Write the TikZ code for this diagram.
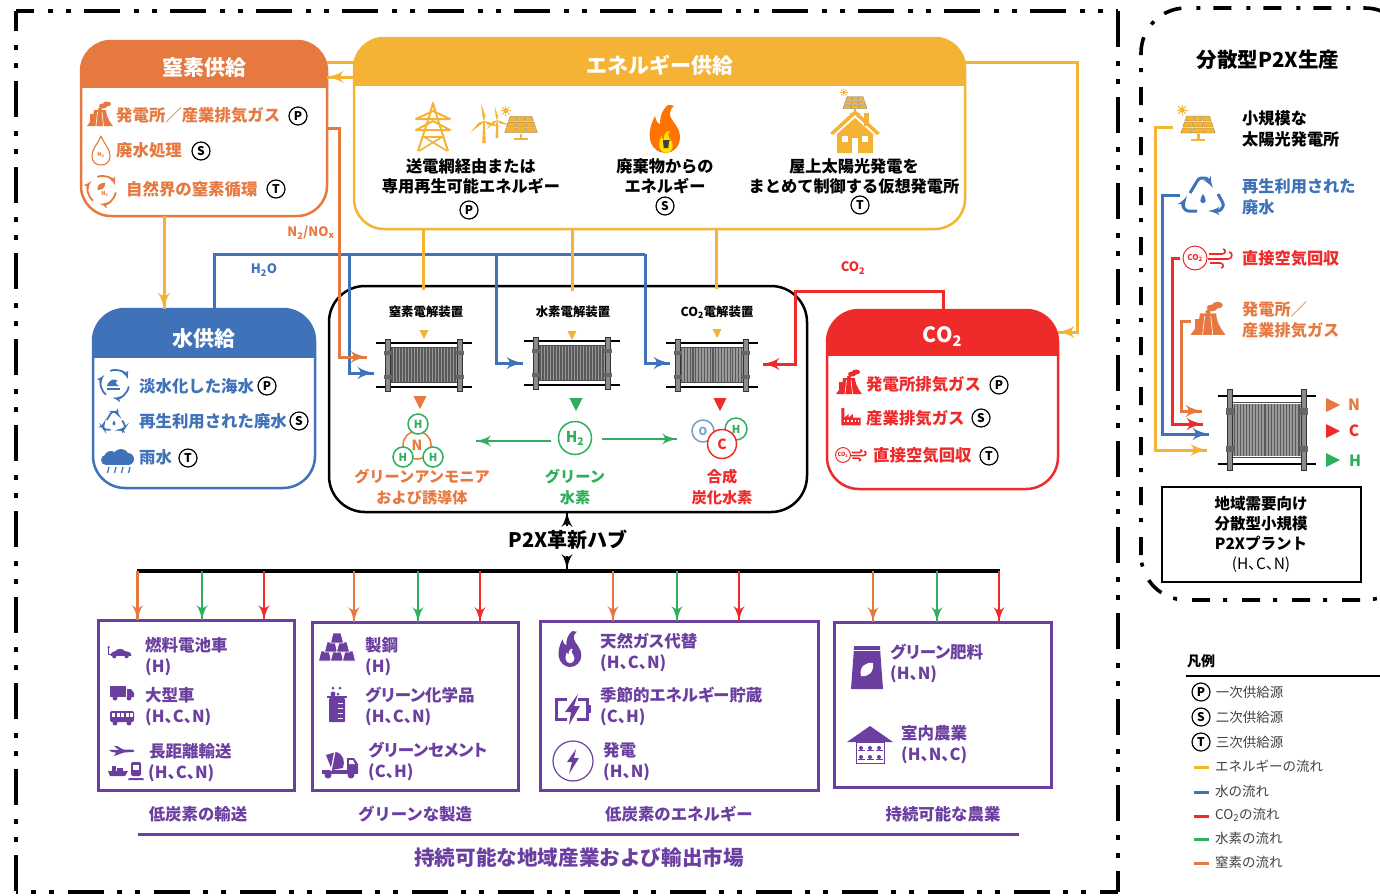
\documentclass[tikz,border=0pt]{standalone}
\usepackage{fontspec}
\setmainfont{Noto Sans CJK JP}
\newfontfamily\paren{Noto Sans CJK JP}[RawFeature=+palt]
\usetikzlibrary{arrows}
\usetikzlibrary{calc}
\usetikzlibrary{decorations.markings}
\usetikzlibrary{fit}
\usetikzlibrary{positioning}
\definecolor{cOrange}{HTML}{E5793F}
\definecolor{cYellow}{HTML}{F5B335}
\definecolor{cBlue}{HTML}{3F72B8}
\definecolor{cRed}{HTML}{EE2A2A}
\definecolor{cGreen}{HTML}{2FAE5B}
\definecolor{cPurple}{HTML}{6B3FA0}
\newcommand{\pxfont}[2]{\fontsize{#1}{#2}\selectfont}
\newcommand{\feedset}[1]{{\paren (#1)}}
\tikzset{->-/.style = {decoration={markings,
                                   mark=at position #1 with {\arrow[scale=1.4]{latex'}}},
                       postaction={decorate}}}
\tikzset{flowline/.style = {line width=3},
         thinflow/.style = {line width=2.6},
         framedash/.style = {line width=4, dash pattern=on 36pt off 14pt on 5pt off 13pt on 5pt off 13pt},
         itemtext/.style = {anchor=west, inner sep=0, align=left, font=\bfseries\pxfont{16.4}{21}},
         markettext/.style = {anchor=west, inner sep=0, align=left, text=cPurple, font=\paren\bfseries\pxfont{16.5}{21}},
         sidetext/.style = {anchor=west, inner sep=0, align=left, font=\bfseries\pxfont{16.2}{21}},
         midtext/.style = {inner sep=0, align=center, font=\bfseries\pxfont{16.2}{20}},
         captext/.style = {inner sep=0, text=cPurple, font=\bfseries\pxfont{16.4}{20}},
         celltext/.style = {inner sep=0, font=\bfseries\pxfont{12.4}{14}},
         flowtext/.style = {inner sep=0, font=\bfseries\pxfont{13}{14}},
         legendtext/.style = {inner sep=0, text=black!75, font=\pxfont{13.5}{16}},
         tagmark/.style = {circle, draw, fill=white, line width=1.2, minimum size=18, inner sep=0, font=\bfseries\pxfont{12}{12}},
         atom/.style = {circle, draw, fill=white, line width=1.5, inner sep=0, font=\bfseries\pxfont{14}{14}},
         marketbox/.style = {draw=cPurple, line width=3, inner sep=0, outer sep=0},
         icontext/.style = {inner sep=0, font=\bfseries\pxfont{5.5}{6}},
         recycleink/.style = {line width=3},
         titlelift/.style = {yshift=-4pt}}
\tikzset{tridown/.pic = {\fill (-6,0) -- (6,0) -- (0,12) -- cycle;},
         triright/.pic = {\fill (0,-7) -- (14,0) -- (0,7) -- cycle;}}
\tikzset{cellstack/.pic = {
           \fill[black!40] (-34,-17) rectangle (34,17);
           \foreach \x in {-32,-29,...,33} \draw[black!65, line width=1.1] (\x,-17) -- (\x,17);
           \draw[black, line width=2] (-48,-22) -- (48,-22);
           \draw[black, line width=2] (-48,22) -- (48,22);
           \draw[black!70, line width=1] (-34,-17.5) -- (34,-17.5);
           \draw[black!70, line width=1] (-34,17.5) -- (34,17.5);
           \foreach \x in {-36,36} {
             \filldraw[fill=black!45, draw=black!80, line width=.8] (\x-2.5,-26) rectangle (\x+2.5,26);
             \foreach \y in {-12,12} \fill[black!60] (\x-4,\y-2) rectangle (\x+4,\y+2);
           }}}
\tikzset{solarpanel/.pic = {
           \foreach \r in {0,1,2} {\foreach \k in {0,1,2} {
             \pgfmathsetmacro{\ya}{-9+6*\r}\pgfmathsetmacro{\yb}{\ya+5}
             \pgfmathsetmacro{\wa}{8+1.33*\r}\pgfmathsetmacro{\wb}{\wa+1.1}
             \filldraw[draw=black!55, line width=.25] ({(\k-1.5)*\wa+.4},\ya) -- ({(\k-.5)*\wa-.4},\ya)
               -- ({(\k-.5)*\wb-.4},\yb) -- ({(\k-1.5)*\wb+.4},\yb) -- cycle;
           }}
           \fill (-1.5,9) rectangle (1.5,14);
           \fill (-7,14) rectangle (7,16);
           \fill (-16,-15) circle (2.8);
           \foreach \a in {0,45,...,315} \draw[line width=.8] ($(-16,-15)+(\a:3)$) -- ($(-16,-15)+(\a:5.5)$);
         },
         windturbine/.pic = {
           \fill (-1.8,0) -- (1.8,0) -- (.8,-22) -- (-.8,-22) -- cycle;
           \begin{scope}[shift={(0,-22)}]
           \foreach \a in {-100,20,140} \fill (0,0) -- (\a+24:5.5) -- (\a:18) -- (\a-10:4) -- cycle;
           \end{scope}
         },
         pylon/.pic = {
           \draw[line width=2, line join=round] (-15,24) -- (-4,-10) -- (0,-24) -- (4,-10) -- (15,24);
           \draw[line width=2, line join=round] (-17,-8) -- (0,-16) -- (17,-8) -- cycle;
           \draw[line width=2, line join=round] (-17,3) -- (0,-6) -- (17,3) -- cycle;
           \draw[line width=1.6] (-10,10) -- (10,10) (-9,10) -- (14,24) (9,10) -- (-14,24);
         },
         flame/.pic = {
           \fill (3,-24) .. controls (-4,-18) and (-5,-11) .. (-5,-5) .. controls (-7,-5) and (-9,-8) .. (-10,-13)
             .. controls (-15,-3) and (-16,4) .. (-15,10) .. controls (-14,18) and (-7,24) .. (0,24)
             .. controls (8,24) and (15,18) .. (15,8) .. controls (15,-2) and (6,-8) .. (5,-14)
             .. controls (5,-18) and (6,-21) .. (9,-23) .. controls (7,-24) and (5,-24) .. (3,-24) -- cycle;
         },
         binmark/.pic = {
           \fill (-3.5,-3.5) rectangle (3.5,-2.6);
           \fill (-3,-2) -- (3,-2) -- (2.3,5) -- (-2.3,5) -- cycle;
         },
         roofhouse/.pic = {
           \fill (9,-19) rectangle (14,-6);
           \fill (0,-22) -- (25,1) -- (22,3) -- (0,-17) -- (-22,3) -- (-25,1) -- cycle;
           \fill (0,-14) -- (18,2) -- (18,21) -- (-18,21) -- (-18,2) -- cycle;
           \fill[white] (-13,4) rectangle (-7,10);
           \fill[white] (7,4) rectangle (13,10);
           \fill[white] (-3,6) rectangle (3,21);
         },
         plantstack/.pic = {
           \fill (-13,11) .. controls (-8,5) and (-6,-1) .. (-6,-5) -- (6,-5) .. controls (6,-1) and (8,5) .. (13,11) -- cycle;
           \draw[white, line width=.6] (-2.5,-3) -- (-4,11) (2,-3) -- (3.5,11);
           \fill (-10,-1) rectangle (-7,11);
           \fill (3,-9) ellipse (4 and 2.5);
           \fill (7,-11) ellipse (4 and 2.5);
           \fill (0,-6) ellipse (2 and 1.5);
         },
         recyclemark/.pic = {
           \draw[recycleink, rounded corners=2.5, -latex'] (-13,-2) -- (-4,-17) -- (4,-17) -- (10,-7);
           \draw[recycleink, rounded corners=2.5, -latex'] (15,-1) -- (21,10) -- (17,16) -- (5,16);
           \draw[recycleink, rounded corners=2.5, -latex'] (-6,16) -- (-17,16) -- (-21,10) -- (-16,1);
           \fill (0,-1) .. controls (-4,5) and (-3,8) .. (0,8) .. controls (3,8) and (4,5) .. (0,-1) -- cycle;
         },
         cyclemark/.pic = {
           \foreach \a in {10,130,250} \draw[line width=1.8, -latex'] (\a:14) arc (\a:\a+90:14);
         },
         leafmark/.pic = {
           \fill (6,-6) .. controls (-2,-6) and (-6,-2) .. (-5,4) .. controls (2,5) and (6,1) .. (6,-6) -- cycle;
         },
         wavemark/.pic = {
           \fill (-8,2) .. controls (-6,-5) and (0,-6) .. (3,-3) .. controls (0,-3) and (0,0) .. (4,2) -- cycle;
           \draw[line width=1.2] (-8,5) -- (5,5);
         },
         waterdrop/.pic = {
           \draw[line width=1.1, line join=round] (0,-15) .. controls (-4,-6) and (-9,-2) .. (-9,5)
             .. controls (-9,11) and (-5,14) .. (0,14) .. controls (5,14) and (9,11) .. (9,5)
             .. controls (9,-2) and (4,-6) .. (0,-15) -- cycle;
           \node[icontext] (dropN) at (0,4) {N\textsubscript{2}};
         },
         raincloud/.pic = {
           \fill (-7,-2) circle (7);
           \fill (3,-3) circle (8);
           \fill (10,-1) circle (6);
           \fill (-12,0) circle (5);
           \fill (-12,-1) rectangle (11,5);
           \foreach \x in {-9,-2,5,12} \draw[line width=1.3] (\x,7) -- (\x-1.5,13);
         },
         factorymark/.pic = {
           \fill (-16,14) -- (-16,-15) -- (-11,-15) -- (-11,1) -- (-4,-5) -- (-4,1) -- (3,-5) -- (3,1) -- (16,1) -- (16,14) -- cycle;
           \foreach \x in {-12,-6,0,6,11} \fill[white] (\x,5) rectangle (\x+2.5,8);
         },
         aircapture/.pic = {
           \draw[line width=1] (0,0) circle (12);
           \node[icontext] (airCO) at (0,0) {CO\textsubscript{2}};
           \draw[line width=1.6] (14,-4) -- (27,-4) .. controls (31,-4) and (31,-9) .. (28,-9);
           \draw[line width=1.6] (13,1) -- (33,1) .. controls (38,1) and (38,-6) .. (34,-6);
           \draw[line width=1.6] (15,5) -- (25,5) .. controls (29,5) and (29,10) .. (26,10);
         },
         carmark/.pic = {
           \fill (-10,4) .. controls (-10,0) and (-7,0) .. (-5,-1) .. controls (-3,-4) and (3,-4) .. (5,-1)
             .. controls (8,-1) and (12,0) .. (12,4) -- cycle;
           \fill (-6,4.5) circle (2.2);
           \fill (7,4.5) circle (2.2);
           \draw[line width=.9] (-10,3) -- (-12,3) -- (-12,-4);
           \fill (-12,-5) circle (1.3);
         },
         truckmark/.pic = {
           \fill (-12,-7) rectangle (4,4);
           \fill (5,-4) -- (9,-4) -- (12,0) -- (12,4) -- (5,4) -- cycle;
           \fill (-7,5) circle (2.5);
           \fill (7,5) circle (2.5);
         },
         busmark/.pic = {
           \fill[rounded corners=2] (-12,-6) rectangle (12,5);
           \foreach \x in {-10,-5.5,-1,3.5,8} \fill[white] (\x,-4) rectangle (\x+3,-.5);
           \fill (-7,6) circle (2.5);
           \fill (7,6) circle (2.5);
         },
         planemark/.pic = {
           \fill (-13,-1) -- (11,-1.5) .. controls (13,-1) and (13,1) .. (10,1) -- (2,1.5) -- (-8,5) -- (-6,1.5) -- (-10,1) -- cycle;
           \fill (-3,-1) -- (-8,-5) -- (-5,-5) -- (2,-1) -- cycle;
         },
         shipmark/.pic = {
           \fill (-10,0) -- (10,0) -- (7,5) -- (-8,5) -- cycle;
           \fill (-6,-5) rectangle (-2,0);
           \fill (-1,-3) rectangle (5,0);
         },
         trainmark/.pic = {
           \fill[rounded corners=2] (-5,-9) rectangle (5,5);
           \fill[white] (-3,-6) rectangle (3,-1);
           \fill (-7,7) -- (7,7) -- (8,9) -- (-8,9) -- cycle;
         },
         steelstack/.pic = {
           \foreach \x/\y in {-12/6,0/6,12/6,-6/-3,6/-3,0/-12}
             \filldraw[draw=white, line width=.8] (\x-6.5,\y+5) -- (\x-4,\y-5) -- (\x+4,\y-5) -- (\x+6.5,\y+5) -- cycle;
         },
         beakermark/.pic = {
           \fill (-10,-9) rectangle (10,-7);
           \fill[rounded corners=1] (-8,-7) rectangle (8,17);
           \foreach \y in {-2,3,8,13} \draw[white, line width=.8] (1,\y) -- (6,\y);
           \fill (-4,-11) circle (2.5);
           \fill (1,-11) circle (1.5);
           \fill (-4,-17) circle (1.5);
           \fill (3,-17) circle (1.5);
         },
         mixermark/.pic = {
           \fill (-18,6) rectangle (18,10);
           \fill (7,-6) -- (14,-6) -- (18,0) -- (18,8) -- (7,8) -- cycle;
           \fill[white] (9,-4) -- (13,-4) -- (15,0) -- (9,0) -- cycle;
           \fill (-14,-9) -- (-4,-12) .. controls (4,-10) and (5,-2) .. (3,4) -- (-8,6) -- cycle;
           \draw[white, line width=1.2] (-5,-13) -- (-9,7);
           \fill (-12,11) circle (3.5);
           \fill (11,11) circle (3.5);
         },
         batterymark/.pic = {
           \draw[line width=3] (-5,-10) -- (-16,-10) -- (-16,10) -- (-5,10);
           \draw[line width=3] (6,-10) -- (15,-10) -- (15,10) -- (5,10);
           \fill (15,-4) rectangle (19,4);
           \fill (6,-15) -- (-7,3) -- (-1,3) -- (-3,16) -- (8,-3) -- (2,-3) -- cycle;
         },
         boltmark/.pic = {
           \draw[line width=1.2] (0,0) circle (20);
           \fill (3,-12) -- (-6,1) -- (-1,1) -- (-4,13) -- (6,-3) -- (1,-3) -- cycle;
         },
         bagmark/.pic = {
           \fill (-13,-21) -- (13,-21) -- (13,-19) -- (16,22) -- (-16,22) -- (-13,-19) -- cycle;
           \fill[white] (6,-4) .. controls (-2,-5) and (-8,0) .. (-6,9) .. controls (2,10) and (7,5) .. (6,-4) -- cycle;
           \draw[white, line width=.8] (-13,-17) -- (13,-17);
         },
         farmmark/.pic = {
           \fill (0,-19) -- (23,-3) -- (-23,-3) -- cycle;
           \draw[line width=.9] (-14,-3) rectangle (14,18);
           \foreach \y in {3,12} {\foreach \x in {-9,0,9} {
             \fill (\x,\y) circle (2);
             \draw[line width=.8] (\x-3.5,\y+2.5) -- (\x+3.5,\y+2.5);
           }}
         }}
\newcommand{\supplybox}[9]{
  \begin{scope}
    \clip (#2,#3) rectangle (#4,#6);
    \fill [#7, rounded corners=#8] (#2,#3) rectangle (#4,#5);
  \end{scope}
  \node [draw=#7, rounded corners=#8, line width=2.5, inner sep=0, outer sep=0, fit={(#2,#3) (#4,#5)}] (#1) {};
  \node [inner sep=0, text=white, titlelift, font=\bfseries\pxfont{21}{22}] (#1title) at ($(#2,#3)!.5!(#4,#6)$) {#9};
}
\begin{document}
\begin{tikzpicture}[x=1pt, y=-1pt]
  \useasboundingbox (0,0) rectangle (1380,895);
  \draw [framedash, dash phase=18pt] (16,11) -- (1118,11);
  \draw [framedash, dash phase=16pt] (16,11) -- (16,892);
  \draw [framedash] (1118,11) -- (1118,892);
  \draw [framedash, dash phase=18pt] (1118,892) -- (16,892);
  \supplybox{nitrogen}{81}{41}{327}{216}{87}{cOrange}{30pt}{窒素供給}
  \supplybox{energy}{354}{38}{965}{229}{85}{cYellow}{30pt}{エネルギー供給}
  \begin{scope}[titlelift/.style={yshift=-6pt}]
    \supplybox{water}{93}{309}{315}{488}{357}{cBlue}{32pt}{水供給}
  \end{scope}
  \supplybox{carbon}{827}{310}{1058}{489}{355}{cRed}{32pt}{CO\textsubscript{2}}
  \node [draw, line width=2.5, rounded corners=36pt, inner sep=0, outer sep=0, fit={(329,286) (807,512)}] (hub) {};
  \node [marketbox, fit={(98,620) (294,790)}] (transport) {};
  \node [marketbox, fit={(312,622) (518,790)}] (industry) {};
  \node [marketbox, fit={(540,621) (818,790)}] (power) {};
  \node [marketbox, fit={(834,622) (1051,787)}] (farming) {};
  % source rows
  \pic [color=cOrange] at (100,115) {plantstack};
  \node [itemtext, text=cOrange] (nitroA) at (116,115) {発電所／産業排気ガス};
  \node [tagmark] (nitroAtag) at (298,116) {P};
  \pic [color=cOrange] at (101,151) {waterdrop};
  \node [itemtext, text=cOrange] (nitroB) at (116,150) {廃水処理};
  \node [tagmark] (nitroBtag) at (201,151) {S};
  \pic [color=cOrange] at (102,190) {cyclemark};
  \pic [color=cOrange, scale=.7] at (101,187) {leafmark};
  \node [icontext, text=cOrange] (nitroCn) at (105,194) {N\textsubscript{2}};
  \node [itemtext, text=cOrange] (nitroC) at (126,189) {自然界の窒素循環};
  \node [tagmark] (nitroCtag) at (276,189) {T};
  \pic [color=cBlue] at (115,384) {cyclemark};
  \pic [color=cBlue] at (115,384) {wavemark};
  \node [itemtext, text=cBlue] (waterA) at (139,386) {淡水化した海水};
  \node [tagmark] (waterAtag) at (267,386) {P};
  \pic [color=cBlue, scale=.55, recycleink/.style={line width=1.8}] at (114,421) {recyclemark};
  \node [itemtext, text=cBlue] (waterB) at (139,421) {再生利用された廃水};
  \node [tagmark] (waterBtag) at (299,421) {S};
  \pic [color=cBlue] at (118,460) {raincloud};
  \node [itemtext, text=cBlue] (waterC) at (139,457) {雨水};
  \node [tagmark] (waterCtag) at (188,458) {T};
  \pic [color=cRed] at (849,383) {plantstack};
  \node [itemtext, text=cRed] (carbonA) at (866,384) {発電所排気ガス};
  \node [tagmark] (carbonAtag) at (999,385) {P};
  \pic [color=cRed, scale=.6] at (851,417) {factorymark};
  \node [itemtext, text=cRed] (carbonB) at (866,418) {産業排気ガス};
  \node [tagmark] (carbonBtag) at (981,418) {S};
  \pic [color=cRed, scale=.62] at (843,455) {aircapture};
  \node [itemtext, text=cRed] (carbonC) at (873,455) {直接空気回収};
  \node [tagmark] (carbonCtag) at (989,456) {T};
  % energy sources
  \pic [color=cYellow, scale=1] at (433,127) {pylon};
  \pic [color=cYellow] at (484,143) {windturbine};
  \pic [color=cYellow, scale=.8] at (497,138) {windturbine};
  \pic [color=cYellow, scale=.95] at (521,125) {solarpanel};
  \node [midtext] (energyA) at (471,176) {送電網経由または\\専用再生可能エネルギー};
  \node [tagmark] (energyAtag) at (469,210) {P};
  \pic [color=orange!90!red] at (665,129) {flame};
  \pic [color=yellow!85!orange, scale=.45] at (666,142) {flame};
  \pic [color=black!75] at (666,143) {binmark};
  \node [midtext] (energyB) at (665,176) {廃棄物からの\\エネルギー};
  \node [tagmark] (energyBtag) at (665,206) {S};
  \pic [color=cYellow, scale=.7] at (855,103) {solarpanel};
  \pic [color=cYellow] at (855,132) {roofhouse};
  \node [midtext] (energyC) at (854,176) {屋上太陽光発電を\\まとめて制御する仮想発電所};
  \node [tagmark] (energyCtag) at (860,205) {T};
  % flows into the hub
  \coordinate (bendN) at (339,128);
  \coordinate (inN) at (367,357);
  \coordinate (waterTurn) at (214,254);
  \coordinate (waterEnd) at (645,254);
  \coordinate (inWa) at (374,373);
  \coordinate (inWb) at (523,363);
  \coordinate (inWc) at (670,363);
  \coordinate (carbonTurn) at (795,291);
  \coordinate (inC) at (763,364);
  \coordinate (energyTurnA) at (1077,62);
  \coordinate (energyTurnB) at (1077,332);
  \draw [cBlue, flowline] (waterTurn |- water.north) -- (waterTurn) -- (waterEnd);
  \draw [cBlue, flowline, ->-=1] (349,254) -- (349,373) -- (inWa);
  \draw [cBlue, flowline, ->-=1] (496,254) -- (496,363) -- (inWb);
  \draw [cBlue, flowline, ->-=1] (waterEnd) -- (waterEnd |- inWc) -- (inWc);
  \draw [cOrange, flowline, ->-=1] (nitrogen.east |- bendN) -- (bendN) -- (bendN |- inN) -- (inN);
  \draw [cYellow, flowline] (energy.west |- 0,62) -- (nitrogen.east |- 0,62);
  \draw [cYellow, flowline, ->-=1] (energy.west |- 0,77) -- (nitrogen.east |- 0,77);
  \draw [cYellow, flowline, ->-=1] (energy.east |- energyTurnA) -- (energyTurnA) -- (energyTurnB) -- (carbon.east |- energyTurnB);
  \draw [cYellow, flowline, ->-=1] (164,0 |- nitrogen.south) -- (164,0 |- water.north);
  \draw [cYellow, flowline] (423,0 |- energy.south) -- (423,290);
  \draw [cYellow, flowline] (572,0 |- energy.south) -- (572,291);
  \draw [cYellow, flowline] (716,0 |- energy.south) -- (716,289);
  \draw [cRed, flowline, ->-=1] (943,0 |- carbon.north) -- (943,291) -- (carbonTurn) -- (carbonTurn |- inC) -- (inC);
  \node [flowtext, text=cOrange] (labelN) at (311,233) {N\textsubscript{2}/NO\textsubscript{x}};
  \node [flowtext, text=cBlue] (labelW) at (264,270) {H\textsubscript{2}O};
  \node [flowtext, text=cRed] (labelC) at (853,268) {CO\textsubscript{2}};
  % cells
  \node [celltext] (cellNtext) at (426,312) {窒素電解装置};
  \node [celltext] (cellHtext) at (573,312) {水素電解装置};
  \node [celltext] (cellCtext) at (717,312) {CO\textsubscript{2}電解装置};
  \pic [color=cYellow, scale=.75] at (424,330) {tridown};
  \pic [color=cYellow, scale=.75] at (572,331) {tridown};
  \pic [color=cYellow, scale=.75] at (717,329) {tridown};
  \pic at (424,365) {cellstack};
  \pic at (572,363) {cellstack};
  \pic [xscale=.95] at (712,365) {cellstack};
  \pic [color=cOrange, scale=1.1] at (420,396) {tridown};
  \pic [color=cGreen, scale=1.1] at (576,398) {tridown};
  \pic [color=cRed, scale=1.1] at (720,398) {tridown};
  % products
  \node [atom, draw=cOrange, text=cOrange, minimum size=28] (atomN) at (417,445) {N};
  \node [atom, draw=cGreen, text=cGreen, minimum size=20, font=\bfseries\pxfont{11}{11}] (atomHa) at (418,424) {H};
  \node [atom, draw=cGreen, text=cGreen, minimum size=20, font=\bfseries\pxfont{11}{11}] (atomHb) at (403,457) {H};
  \node [atom, draw=cGreen, text=cGreen, minimum size=20, font=\bfseries\pxfont{11}{11}] (atomHc) at (433,457) {H};
  \node [atom, draw=cGreen, text=cGreen, minimum size=33, font=\bfseries\pxfont{15}{15}] (atomHH) at (575,438) {H\textsubscript{2}};
  \node [atom, draw=cGreen, text=cGreen, minimum size=22, font=\bfseries\pxfont{11}{11}] (atomHd) at (736,429) {H};
  \node [atom, draw=cBlue!70, text=cBlue!70, minimum size=22, font=\bfseries\pxfont{11}{11}] (atomO) at (703,431) {O};
  \node [atom, draw=cRed, text=cRed, minimum size=29] (atomC) at (722,444) {C};
  \node [midtext, text=cOrange, font=\bfseries\pxfont{15.2}{21}] (prodN) at (422,487) {グリーンアンモニア\\および誘導体};
  \node [midtext, text=cGreen, font=\bfseries\pxfont{15.2}{21}] (prodH) at (575,487) {グリーン\\水素};
  \node [midtext, text=cRed, font=\bfseries\pxfont{15.2}{21}] (prodC) at (722,487) {合成\\炭化水素};
  \draw [cGreen, thinflow, ->-=1] (atomHH.west |- 0,441) ++(-7,0) -- (476,441);
  \draw [cGreen, thinflow, ->-=1] (atomHH.east |- 0,439) ++(10,0) -- (677,439);
  % hub to markets
  \node [inner sep=0, font=\bfseries\pxfont{20}{22}] (hubtext) at (568,540) {P2X革新ハブ};
  \coordinate (busL) at (137,571);
  \coordinate (busR) at (1000,571);
  \coordinate (hubUp) at (567,526);
  \coordinate (hubDown) at (567,556);
  \coordinate (busIn) at (567,569);
  \draw [line width=2.6, ->-=1] (hubUp) -- (hubUp |- hub.south);
  \draw [line width=2.6, ->-=1] (hubDown) -- (busIn);
  \draw [line width=3.2] (busL) -- (busR);
  \foreach \xo/\xg/\xr/\boxname in {137.5/202/264/transport, 354/418/480/industry, 613/677/739/power, 873/937/999/farming} {
    \draw [cOrange, thinflow, ->-=1] (\xo,0 |- busL) -- (\xo,0 |- \boxname.north);
    \draw [cGreen, thinflow, ->-=1] (\xg,0 |- busL) -- (\xg,0 |- \boxname.north);
    \draw [cRed, thinflow, ->-=1] (\xr,0 |- busL) -- (\xr,0 |- \boxname.north);
  }
  % market boxes
  \pic [color=cPurple, scale=.95] at (120,652) {carmark};
  \node [markettext] (useA) at (145,656.5) {燃料電池車\\\feedset{H}};
  \pic [color=cPurple] at (122,693) {truckmark};
  \pic [color=cPurple] at (122,717) {busmark};
  \node [markettext] (useB) at (145,706.5) {大型車\\\feedset{H、C、N}};
  \pic [color=cPurple] at (122,751) {planemark};
  \pic [color=cPurple] at (118,771) {shipmark};
  \pic [color=cPurple] at (136,771) {trainmark};
  \node [markettext] (useC) at (148,762.5) {\hspace{1pt}長距離輸送\\\feedset{H、C、N}};
  \pic [color=cPurple] at (337,650) {steelstack};
  \node [markettext] (useD) at (365,656.5) {製鋼\\\feedset{H}};
  \pic [color=cPurple] at (337,705) {beakermark};
  \node [markettext] (useE) at (365,706.5) {グリーン化学品\\\feedset{H、C、N}};
  \pic [color=cPurple] at (340,764) {mixermark};
  \node [markettext] (useF) at (368,761.5) {グリーンセメント\\\feedset{C、H}};
  \pic [color=cPurple, scale=.75] at (570,649) {flame};
  \pic [color=white, scale=.3] at (570,656) {flame};
  \node [markettext] (useG) at (600,652.5) {天然ガス代替\\\feedset{H、C、N}};
  \pic [color=cPurple] at (572,709) {batterymark};
  \node [markettext] (useH) at (600,706.5) {季節的エネルギー貯蔵\\\feedset{C、H}};
  \pic [color=cPurple] at (573,761) {boltmark};
  \node [markettext] (useI) at (603,761.5) {発電\\\feedset{H、N}};
  \pic [color=cPurple] at (867,667) {bagmark};
  \node [markettext] (useJ) at (890,663.5) {グリーン肥料\\\feedset{H、N}};
  \pic [color=cPurple] at (870,745) {farmmark};
  \node [markettext] (useK) at (901,745) {室内農業\\\feedset{H、N、C}};
  \node [captext] (capA) at (198,814) {低炭素の輸送};
  \node [captext] (capB) at (415,814) {グリーンな製造};
  \node [captext] (capC) at (679,814) {低炭素のエネルギー};
  \node [captext] (capD) at (943,814) {持続可能な農業};
  \coordinate (ruleL) at (138,834);
  \coordinate (ruleR) at (1019,834);
  \draw [cPurple, flowline] (ruleL) -- (ruleR);
  \node [inner sep=0, text=cPurple, font=\bfseries\pxfont{20.6}{22}] (market) at (579,858) {持続可能な地域産業および輸出市場};
  % distributed panel
  \draw [line width=3.6, rounded corners=45pt, dash pattern=on 18pt off 15pt on 4pt off 13pt] (1141,600) rectangle (1410,8);
  \node [inner sep=0, font=\bfseries\pxfont{20.5}{22}] (sidetitle) at (1268,60) {分散型P2X生産};
  \pic [color=cYellow] at (1198,125) {solarpanel};
  \node [sidetext] (sideA) at (1242,128.5) {小規模な\\太陽光発電所};
  \pic [color=cBlue] at (1203,195) {recyclemark};
  \node [sidetext, text=cBlue] (sideB) at (1242,196.5) {再生利用された\\廃水};
  \pic [color=cRed, icontext/.append style={font=\bfseries\pxfont{8}{8}}] at (1195,258) {aircapture};
  \node [sidetext, text=cRed] (sideC) at (1242,258) {直接空気回収};
  \pic [color=cOrange, scale=1.35] at (1208,320) {plantstack};
  \node [sidetext, text=cOrange] (sideD) at (1242,320) {発電所／\\産業排気ガス};
  \pic [xscale=1.03, yscale=1.55] at (1267,430) {cellstack};
  \coordinate (panelOut) at (1173,127);
  \coordinate (panelIn) at (1207,450);
  \coordinate (reuseOut) at (1180,195);
  \coordinate (reuseIn) at (1209,434);
  \coordinate (airOut) at (1180,258);
  \coordinate (airIn) at (1203,424);
  \coordinate (stackOut) at (1191,321);
  \coordinate (stackIn) at (1202,411);
  \draw [cYellow, flowline, ->-=1] (panelOut) -- (1155,0 |- panelOut) -- (1155,0 |- panelIn) -- (panelIn);
  \draw [cBlue, flowline, ->-=1] (reuseOut) -- (1162,0 |- reuseOut) -- (1162,0 |- reuseIn) -- (reuseIn);
  \draw [cRed, flowline, ->-=1] (airOut) -- (1172,0 |- airOut) -- (1172,0 |- airIn) -- (airIn);
  \draw [cOrange, flowline, ->-=1] (stackOut) -- (1181,0 |- stackOut) -- (1181,0 |- stackIn) -- (stackIn);
  \pic [color=cOrange] at (1326,405) {triright};
  \pic [color=cRed] at (1326,431) {triright};
  \pic [color=cGreen] at (1326,460) {triright};
  \node [inner sep=0, text=cOrange, font=\bfseries\pxfont{15.5}{16}] (outN) at (1354,405) {N};
  \node [inner sep=0, text=cRed, font=\bfseries\pxfont{15.5}{16}] (outC) at (1354,431) {C};
  \node [inner sep=0, text=cGreen, font=\bfseries\pxfont{15.5}{16}] (outH) at (1355,461) {H};
  \node [draw, line width=2.4, inner sep=0, fit={(1162,487) (1361,582)}] (plant) {};
  \node [inner sep=0, align=center, font=\bfseries\pxfont{15.5}{20}] (planttext) at (1261,534.5) {地域需要向け\\分散型小規模\\P2Xプラント\\{\mdseries\feedset{H、C、N}}};
  % legend
  \node [inner sep=0, anchor=west, font=\bfseries\pxfont{14}{16}] (legtitle) at (1187,661) {凡例};
  \coordinate (legL) at (1186,676);
  \draw [line width=2.2] (legL) -- (1380,676);
  \node [tagmark] (legP) at (1201,692) {P};
  \node [legendtext, right=5pt of legP] (legPtext) {一次供給源};
  \node [tagmark] (legS) at (1201,717) {S};
  \node [legendtext, right=5pt of legS] (legStext) {二次供給源};
  \node [tagmark] (legT) at (1201,742) {T};
  \node [legendtext, right=5pt of legT] (legTtext) {三次供給源};
  \foreach \n/\y/\col/\txt in {energy/767/cYellow/エネルギーの流れ, water/792/cBlue/水の流れ, carbon/816/cRed/{CO\textsubscript{2}の流れ}, hydrogen/839/cGreen/水素の流れ, nitrogen/863/cOrange/窒素の流れ} {
    \coordinate (key\n) at (1194,\y);
    \draw [\col, flowline] (key\n) -- ++(15,0);
    \node [legendtext, anchor=west] (leg\n) at (1215,\y-1) {\txt};
  }
\end{tikzpicture}
\end{document}
